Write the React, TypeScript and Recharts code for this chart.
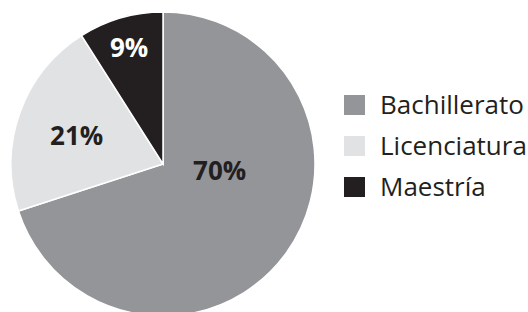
import { PieChart, Pie, Cell, Legend } from 'recharts'

const categories = ['Bachillerato', 'Licenciatura', 'Maestría']
const percentages = [70, 21, 9]

const sliceColors = ['#939598', '#e1e2e3', '#231f20']
const labelColors = ['#231f20', '#231f20', '#ffffff']
// label radius as a share of the outer radius, plus an angle shift (degrees)
const labelPlacement = [
  { radius: 0.375, shift: 30 },
  { radius: 0.6, shift: 1 },
  { radius: 0.8, shift: 0 },
]

const data = categories.map((name, i) => ({ name, value: percentages[i] }))

const RAD = Math.PI / 180

function renderLabel(props: any) {
  const { cx, cy, midAngle, outerRadius, index, value } = props
  const place = labelPlacement[index]
  const angle = midAngle + place.shift
  const r = outerRadius * place.radius
  const x = cx + r * Math.cos(-angle * RAD)
  const y = cy + r * Math.sin(-angle * RAD)
  return (
    <text
      x={x}
      y={y}
      fill={labelColors[index]}
      textAnchor="middle"
      dominantBaseline="central"
      fontFamily="'Open Sans', sans-serif"
      fontWeight={700}
      fontSize={26}
    >
      {value}%
    </text>
  )
}

function LegendList({ payload }: { payload?: Array<{ value: string; color: string }> }) {
  if (!payload) return null
  return (
    <div style={{ display: 'flex', flexDirection: 'column' }}>
      {payload.map((entry) => (
        <div
          key={entry.value}
          style={{ display: 'flex', alignItems: 'center', height: 41 }}
        >
          <span
            style={{
              width: 21,
              height: 20,
              background: entry.color,
              marginRight: 15,
              display: 'inline-block',
            }}
          />
          <span
            style={{
              fontFamily: "'Open Sans', sans-serif",
              fontSize: 26,
              color: '#231f20',
              lineHeight: '41px',
            }}
          >
            {entry.value}
          </span>
        </div>
      ))}
    </div>
  )
}

export default function App() {
  return (
    <div style={{ position: 'absolute', left: 0, top: 0, width: 528, height: 312, background: '#fff' }}>
      <PieChart width={528} height={312} margin={{ top: 0, right: 0, bottom: 0, left: 0 }}>
        <Pie
          data={data}
          dataKey="value"
          nameKey="name"
          cx={163}
          cy={164}
          outerRadius={152}
          startAngle={90}
          endAngle={-270}
          stroke="#ffffff"
          strokeWidth={1.5}
          labelLine={false}
          label={renderLabel}
          isAnimationActive={false}
        >
          {data.map((d, i) => (
            <Cell key={d.name} fill={sliceColors[i]} />
          ))}
        </Pie>
        <Legend
          content={<LegendList />}
          wrapperStyle={{ position: 'absolute', left: 344, top: 84, width: 184 }}
        />
      </PieChart>
    </div>
  )
}
